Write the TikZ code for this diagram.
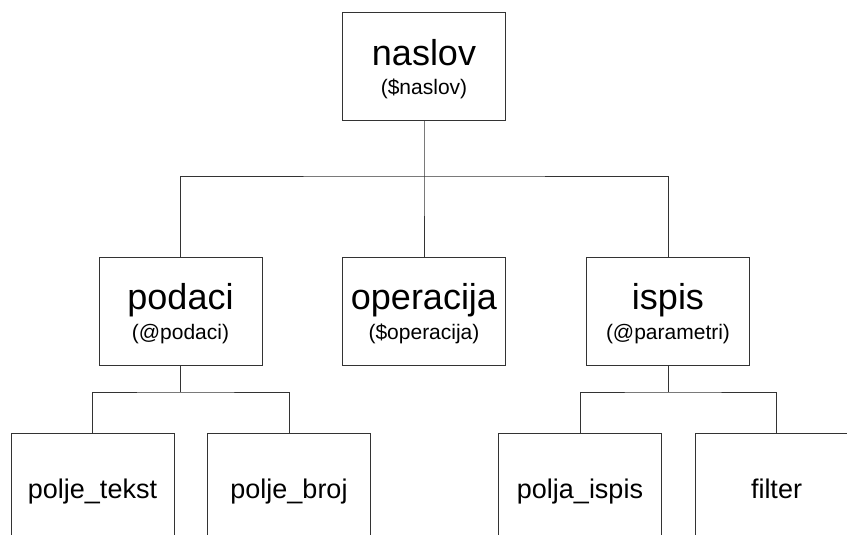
\documentclass[tikz,border=0pt]{standalone}
\usepackage{fontspec}
\setmainfont{Liberation Sans}

\begin{document}
\begin{tikzpicture}[x=1pt,y=-1pt,
  kutija/.style={draw=black!80, line width=1pt, minimum width=163pt, minimum height=108pt, inner sep=0pt},
  veza/.style={draw=black!80, line width=1pt},
  glavni/.style={anchor=base, inner sep=0pt, font=\fontsize{36}{40}\selectfont},
  opis/.style={anchor=base, inner sep=0pt, font=\fontsize{21}{24}\selectfont},
  listtxt/.style={anchor=base, inner sep=0pt, font=\fontsize{27}{30}\selectfont}]

\useasboundingbox (0,0) rectangle (847,535);
\clip (0,0) rectangle (847,535); % donji red izlazi van slike

% korijen
\node[kutija] (naslov) at (424,67) {};
\node[glavni] (naslov-t) at ([yshift=1.5pt]naslov.center) {naslov};
\node[opis] (naslov-o) at ([yshift=-28pt]naslov.center) {(\$naslov)};

% srednji red
\foreach \ime/\x/\tekst/\opis in {podaci/180.5/podaci/(@podaci), operacija/424/operacija/(\$operacija), ispis/668/ispis/(@parametri)}{
  \node[kutija] (\ime) at (\x,311) {};
  \node[glavni] (\ime-t) at ([yshift=1.5pt]\ime.center) {\tekst};
  \node[opis] (\ime-o) at ([yshift=-28pt]\ime.center) {\opis};
}

% donji red
\foreach \ime/\x/\tekst in {poljeT/92.5/polje\_tekst, poljeB/289/polje\_broj, poljaI/580/polja\_ispis, filter/776.5/filter}{
  \node[kutija] (\ime) at (\x,487) {};
  \node[listtxt] (\ime-t) at ([yshift=-11pt]\ime.center) {\tekst};
}

% veze
\coordinate (gore) at (424,176);
\coordinate (lijevo) at (180.5,392);
\coordinate (desno) at (668,392);
\draw[veza] (naslov) -- (gore) -- (operacija);
\draw[veza] (podaci) |- (gore) -| (ispis);
\draw[veza] (podaci) -- (lijevo);
\draw[veza] (poljeT) |- (lijevo) -| (poljeB);
\draw[veza] (ispis) -- (desno);
\draw[veza] (poljaI) |- (desno) -| (filter);

\end{tikzpicture}
\end{document}
